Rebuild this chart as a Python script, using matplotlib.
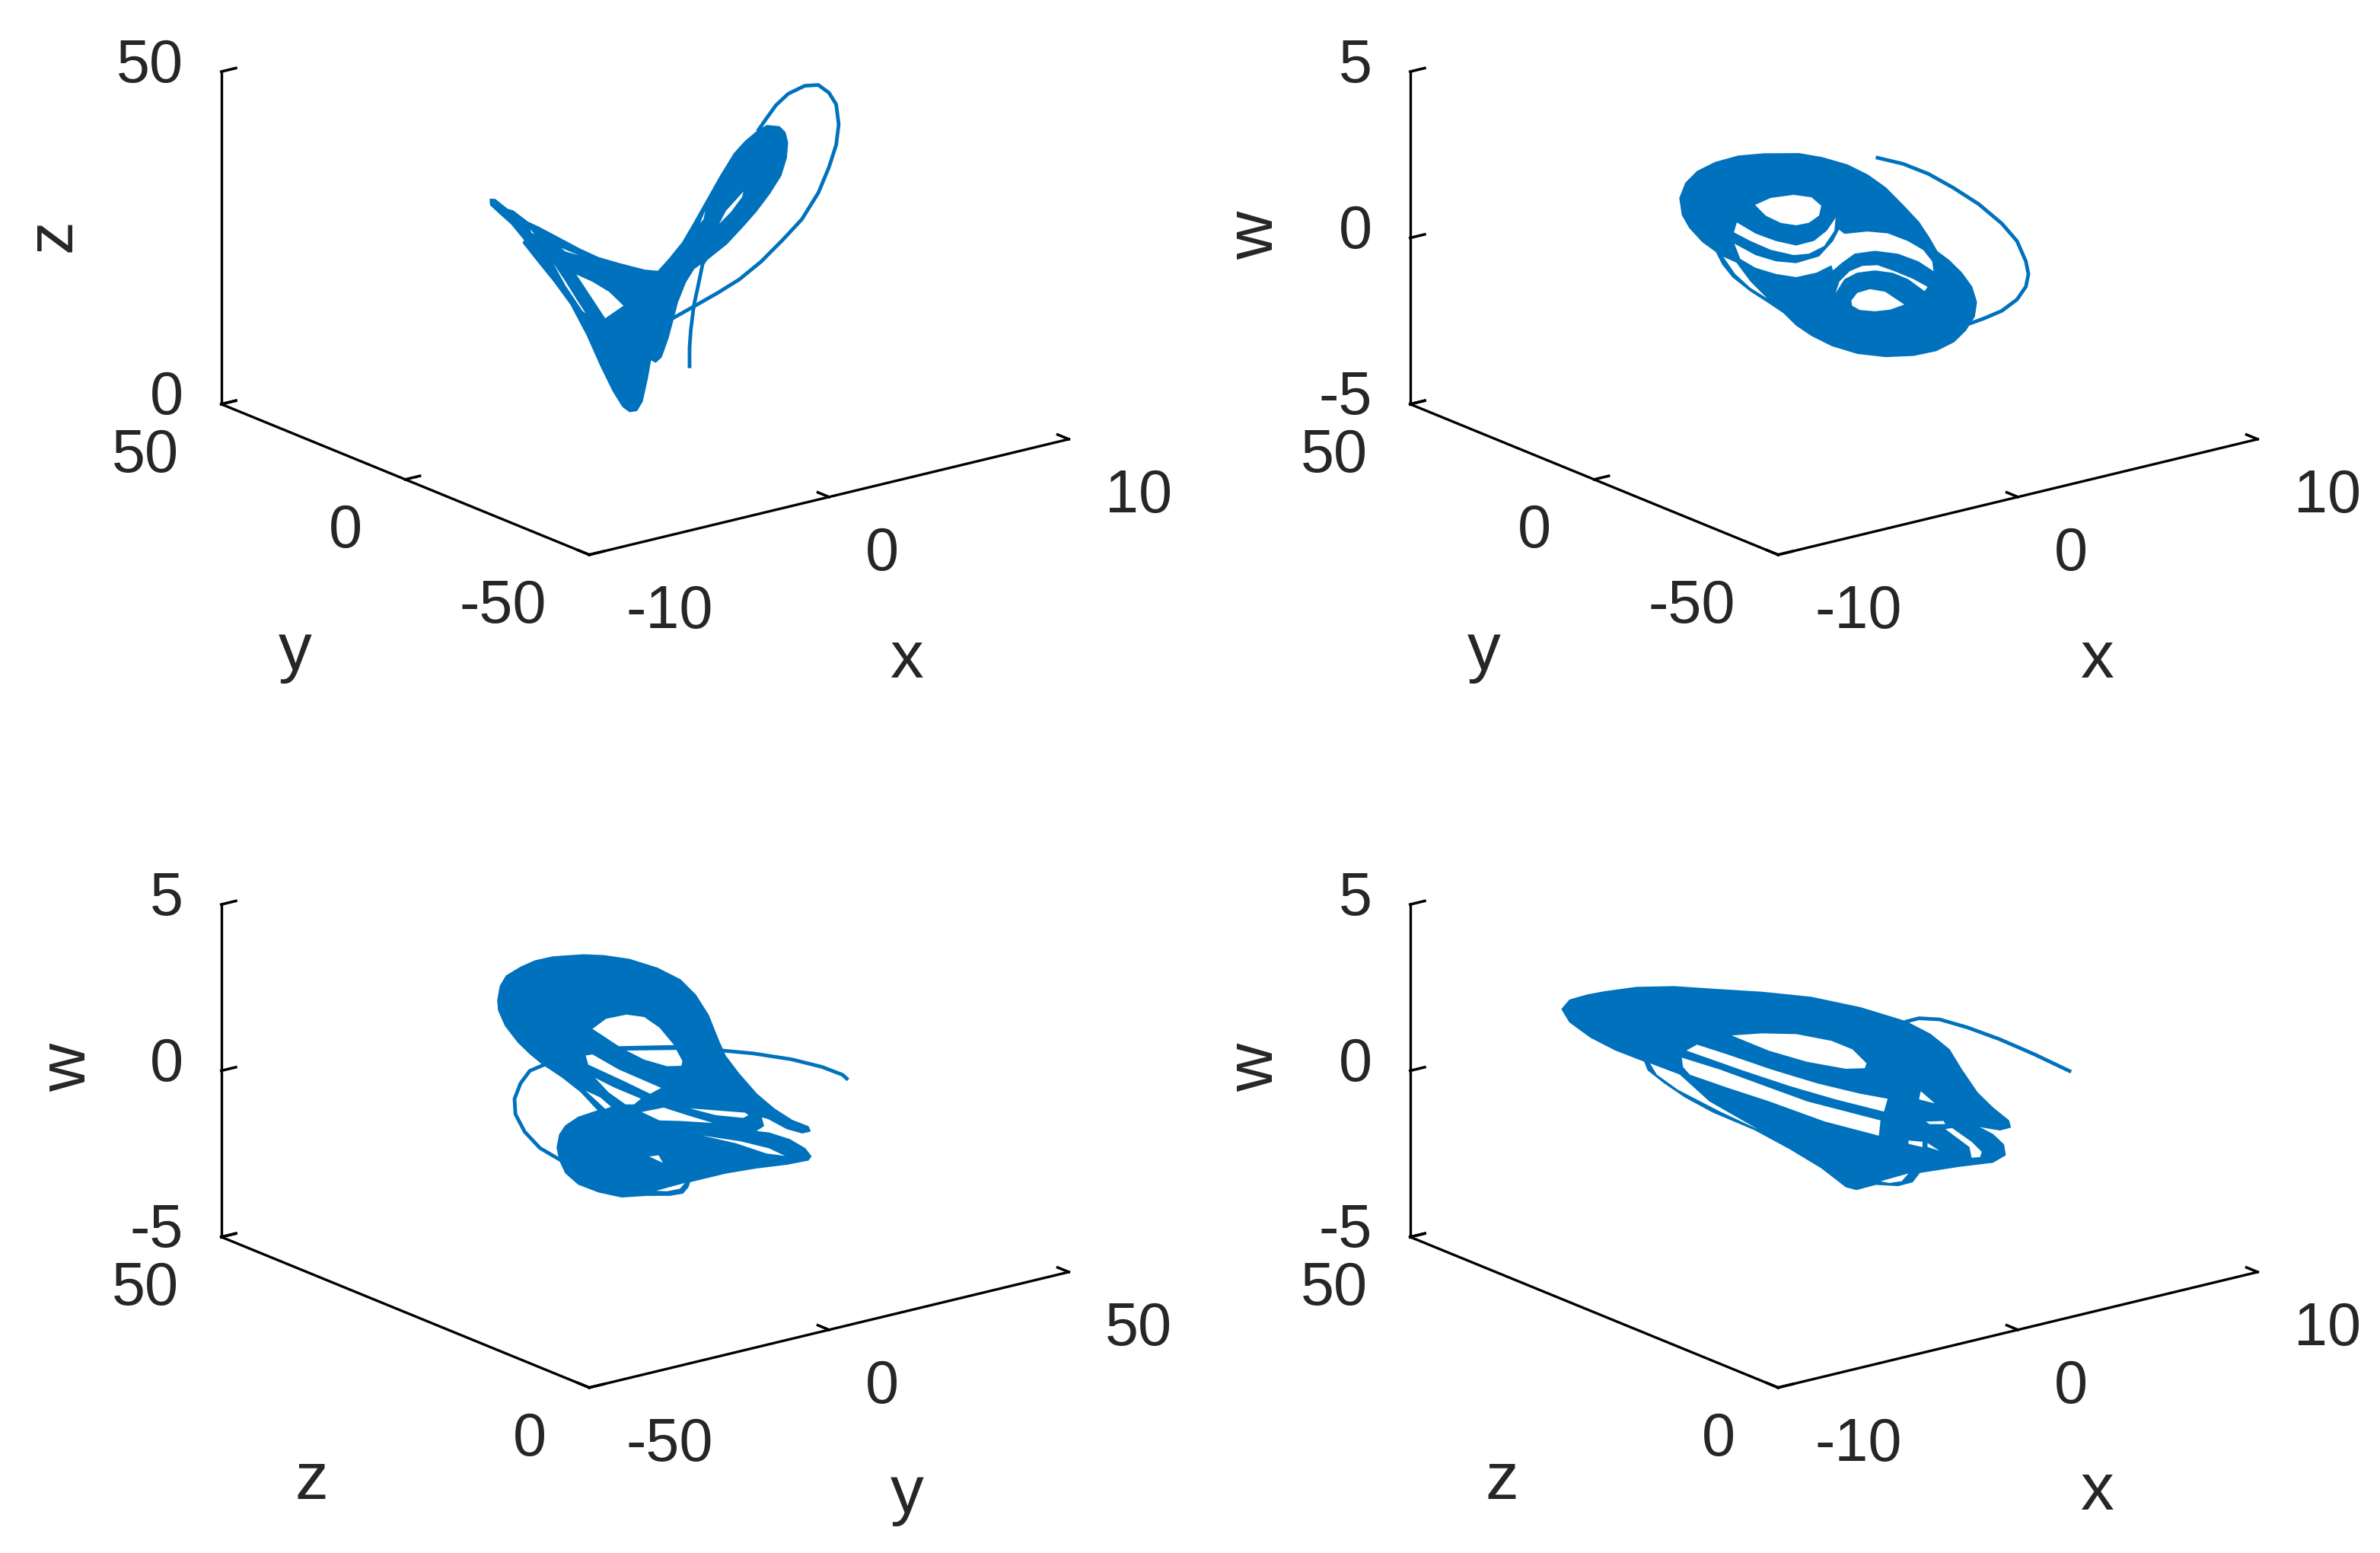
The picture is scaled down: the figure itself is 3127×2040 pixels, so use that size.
import matplotlib
matplotlib.use('Agg')
import matplotlib.pyplot as plt
from matplotlib.ticker import NullFormatter
from mpl_toolkits.mplot3d import proj3d
from mpl_toolkits.mplot3d.art3d import Poly3DCollection

nan = float('nan')

# panel 1: x, y, z
body1_x = [-3.66, -3.55, -3.26, -3.13, -2.78, -2.52, -2.07, -1.56, -1.11, -0.6, -0.02, 0.3, 0.56, 0.88, 1.14, 1.46, 1.78, 2.1, 2.36, 2.68, 2.87, 3.16, 3.29, 3.35, 3.32, 3.19, 2.93, 2.61, 2.29, 1.91, 1.46, 1.14, 0.94, 0.75, 0.65, 0.53, 0.37, 0.24, 0.12, 0.04, -0.08, -0.21, -0.37, -0.53, -0.76, -1.05, -1.37, -1.75, -2.14, -2.52, -2.88, -2.84, -3.16, -3.42, -3.65]
body1_y = [18.3, 17.75, 16.3, 15.65, 13.9, 12.6, 10.35, 7.8, 5.55, 3, 0.1, -1.5, -2.8, -4.4, -5.7, -7.3, -8.9, -10.5, -11.8, -13.4, -14.35, -15.8, -16.45, -16.75, -16.6, -15.95, -14.65, -13.05, -11.45, -9.55, -7.3, -5.7, -4.7, -3.75, -3.25, -2.65, -1.85, -1.2, -0.6, -0.2, 0.4, 1.05, 1.85, 2.65, 3.8, 5.25, 6.85, 8.75, 10.7, 12.6, 14.4, 14.2, 15.8, 17.1, 18.25]
body1_z = [32.5, 32.5, 31.1, 30.9, 29.3, 28.6, 27.2, 25.6, 24.4, 23.6, 22.8, 22.7, 24.6, 27.2, 30.1, 33.8, 37.5, 40.9, 42.8, 44.6, 45.3, 45.2, 44.4, 42.9, 40.6, 37.9, 35.2, 32.4, 30.0, 27.3, 24.9, 23.4, 21.3, 18.2, 15.7, 12.8, 9.9, 9.1, 9.5, 6.6, 3.1, 1.7, 1.5, 2.2, 4.5, 8.2, 12.7, 17.2, 20.5, 23.4, 26.2, 26.6, 29.0, 30.4, 31.7]
gap1_x = [-1.62, -1.24, -0.85, -0.51, -0.94, nan, -2.17, -1.88, -1.62, -1.4, -1.48, -1.88, nan, 2.32, 2.29, 2.03, 1.75, 1.91, nan, -1.98, -1.56, -1.88, nan, 1.3, 1.42, 1.38, nan, -2.71, -2.61, -2.68]
gap1_y = [8.1, 6.2, 4.25, 2.55, 4.7, nan, 10.85, 9.4, 8.1, 7, 7.4, 9.4, nan, -11.6, -11.45, -10.15, -8.75, -9.55, nan, 9.9, 7.8, 9.4, nan, -6.5, -7.1, -6.9, nan, 13.55, 13.05, 13.4]
gap1_z = [21.7, 20.7, 19.3, 17.3, 15.3, nan, 23.3, 20.6, 18.0, 15.9, 16.3, 20.0, nan, 35.2, 34.4, 32.1, 30.2, 32.2, nan, 25.6, 24.6, 25.1, nan, 30.2, 32.1, 30.8, nan, 28.2, 27.5, 27.7]
tail1_x = [1.05, 1.05, 1.08, 1.15, 1.26, 1.36, 1.44, nan, 0.65, 1.17, 1.71, 2.23, 2.74, 3.25, 3.7, 4.09, 4.34, 4.51, 4.57, 4.51, 4.34, 4.09, 3.77, 3.38, 3.09, 2.87, 2.68]
tail1_y = [-5.25, -5.25, -5.4, -5.75, -6.3, -6.8, -7.2, nan, -3.25, -5.85, -8.55, -11.15, -13.7, -16.25, -18.5, -20.45, -21.7, -22.55, -22.85, -22.55, -21.7, -20.45, -18.85, -16.9, -15.45, -14.35, -13.4]
tail1_z = [8.6, 11.4, 14.1, 17.7, 21.0, 24.1, 24.9, nan, 15.7, 17.7, 19.8, 22.0, 24.8, 28.2, 31.4, 35.5, 39.4, 42.8, 45.9, 48.9, 50.6, 51.7, 51.5, 50.2, 48.4, 46.4, 44.6]

# panel 2: x, y, w
body2_x = [-3.64, -3.5, -3.23, -2.81, -2.27, -1.67, -0.83, -0.29, 0.31, 0.79, 1.21, 1.63, 1.99, 2.23, 2.42, 2.7, 3.0, 3.24, 3.35, 3.3, 3.09, 2.82, 2.4, 1.87, 1.21, 0.55, -0.05, -0.53, -0.89, -1.19, -1.55, -1.97, -2.39, -2.63, -2.78, -3.11, -3.41, -3.58]
body2_y = [18.2, 17.5, 16.15, 14.05, 11.35, 8.35, 4.15, 1.45, -1.55, -3.95, -6.05, -8.15, -9.95, -11.15, -12.1, -13.5, -15, -16.2, -16.75, -16.5, -15.45, -14.1, -12, -9.35, -6.05, -2.75, 0.25, 2.65, 4.45, 5.95, 7.75, 9.85, 11.95, 13.15, 13.9, 15.55, 17.05, 17.9]
body2_w = [1.54, 2.0, 2.36, 2.65, 2.87, 2.97, 3.02, 2.93, 2.74, 2.46, 2.1, 1.58, 1.11, 0.66, 0.25, 0.0, -0.36, -0.77, -1.22, -1.65, -2.08, -2.43, -2.72, -2.89, -2.96, -2.9, -2.7, -2.42, -2.13, -1.77, -1.48, -1.16, -0.76, -0.39, -0.02, 0.27, 0.67, 1.04]
gap2_x = [-1.86, -1.49, -0.95, -0.53, -0.3, -0.35, -0.59, -0.89, -1.25, -1.61, nan,
          -2.29, -1.85, -1.37, -0.89, -0.47, -0.17, 0.04, 0.01, -0.23, -0.59, -0.95, -1.49, -1.97, -2.36, nan,
          -2.35, -1.85, -1.37, -0.89, -0.35, -0.02, 0.12, 0.25, 0.79, 1.27, 1.75, 2.11, 2.32, 2.35, 1.99, 1.51, 0.97, 0.49, 0.19, -0.02, -0.06, -0.41, -0.89, -1.37, -1.85, -2.21, nan,
          0.04, 0.13, 0.37, 0.67, 1.03, 1.45, 1.87, 2.21, 2.14, 1.75, 1.39, 0.97, 0.55, 0.25, nan,
          0.41, 0.55, 0.85, 1.21, 1.66, 1.33, 0.97, 0.61, 0.43, nan,
          -2.61, -2.3, -1.97, -1.58, -1.97, -2.33]
gap2_y = [9.3, 7.45, 4.75, 2.65, 1.5, 1.75, 2.95, 4.45, 6.25, 8.05, nan,
          11.45, 9.25, 6.85, 4.45, 2.35, 0.85, -0.2, -0.05, 1.15, 2.95, 4.75, 7.45, 9.85, 11.8, nan,
          11.75, 9.25, 6.85, 4.45, 1.75, 0.1, -0.6, -1.25, -3.95, -6.35, -8.75, -10.55, -11.6, -11.75, -9.95, -7.55, -4.85, -2.45, -0.95, 0.1, 0.3, 2.05, 4.45, 6.85, 9.25, 11.05, nan,
          -0.2, -0.65, -1.85, -3.35, -5.15, -7.25, -9.35, -11.05, -10.7, -8.75, -6.95, -4.85, -2.75, -1.25, nan,
          -2.05, -2.75, -4.25, -6.05, -8.3, -6.65, -4.85, -3.05, -2.15, nan,
          13.05, 11.5, 9.85, 7.9, 9.85, 11.65]
gap2_w = [1.42, 1.65, 1.77, 1.72, 1.48, 1.18, 0.95, 0.86, 0.91, 1.11, nan,
          0.87, 0.56, 0.36, 0.25, 0.41, 0.73, 1.13, 0.74, 0.27, 0.02, -0.04, 0.09, 0.33, 0.57, nan,
          0.23, -0.09, -0.25, -0.28, -0.05, 0.43, 0.78, 0.66, 0.76, 0.73, 0.52, 0.27, -0.06, -0.35, -0.07, 0.13, 0.19, 0.08, -0.21, -0.45, -0.3, -0.54, -0.7, -0.63, -0.47, -0.22, nan,
          -1.13, -0.78, -0.46, -0.28, -0.24, -0.41, -0.61, -0.83, -0.96, -0.62, -0.45, -0.4, -0.49, -0.7, nan,
          -1.34, -1.1, -0.97, -1.03, -1.39, -1.56, -1.63, -1.61, -1.49, nan,
          -0.18, -0.34, -0.89, -1.37, -1.08, -0.68]
tail2_x = [1.03, 1.63, 2.23, 2.82, 3.42, 3.96, 4.32, 4.53, 4.59, 4.53, 4.32, 3.96, 3.54, 3.09]
tail2_y = [-5.15, -8.15, -11.15, -14.1, -17.1, -19.8, -21.6, -22.65, -22.95, -22.65, -21.6, -19.8, -17.7, -15.45]
tail2_w = [2.99, 2.84, 2.57, 2.18, 1.72, 1.17, 0.66, 0.06, -0.32, -0.7, -1.1, -1.46, -1.71, -1.94]

# panel 3: y, z, w
body3_y = [-17.4, -17.1, -16.4, -14.7, -13.0, -10.9, -7.3, -4.9, -1.9, 1.4, 4.1, 5.9, 7.4, 8.6, 9.4, 11.0, 13.1, 15.2, 17.3, 19.2, 19.4, 18.5, 16.7, 14.5, 13.6, 13.9, 13.1, 12.2, 14.6, 17.0, 18.8, 19.5, 19.2, 16.7, 13.1, 9.5, 5.2, 5.0, 4.4, 2.9, 0.2, -2.8, -5.5, -7.9, -9.4, -10.1, -10.4, -10.1, -9.4, -7.9, -5.5, -7.6, -9.7, -11.5, -12.0, -13.6, -15.0, -16.5, -17.3]
body3_z = [33.7, 33.55, 33.2, 32.35, 31.5, 30.45, 28.65, 27.45, 25.95, 24.3, 22.95, 22.05, 21.3, 20.7, 20.3, 19.5, 18.45, 17.4, 16.35, 15.4, 15.3, 15.75, 16.65, 17.75, 18.2, 18.05, 18.45, 18.9, 17.7, 16.5, 15.6, 15.25, 15.4, 16.65, 18.45, 20.25, 22.4, 22.5, 22.8, 23.55, 24.9, 26.4, 27.75, 28.95, 29.7, 30.05, 30.2, 30.05, 29.7, 28.95, 27.75, 28.8, 29.85, 30.75, 31, 31.8, 32.5, 33.25, 33.65]
body3_w = [2.47, 2.9, 3.21, 3.49, 3.7, 3.84, 3.94, 3.94, 3.86, 3.63, 3.31, 2.87, 2.28, 1.53, 1.08, 0.56, -0.03, -0.46, -0.78, -0.95, -1.07, -1.13, -1.02, -0.74, -0.69, -0.97, -1.11, -1.14, -1.19, -1.36, -1.61, -1.83, -1.94, -2.09, -2.24, -2.43, -2.74, -2.9, -3.09, -3.17, -3.2, -3.28, -3.16, -2.95, -2.63, -2.25, -1.88, -1.49, -1.22, -0.95, -0.72, -0.17, 0.23, 0.52, 0.59, 0.91, 1.24, 1.72, 2.17]
gap3_y = [-6.2, -4.6, -2.2, -0.1, 1.7, 3.5, -2.9, nan,
          -2.2, 3.7, 4.4, 4.3, 2.6, -0.1, nan,
          -7.0, -6.2, -3.1, 1.9, 0.6, -2.5, -6.7, nan,
          -5.9, -3.7, -0.5, -1.3, -2.3, -4.3, nan,
          -7.0, -5.3, -4.0, -4.7, -5.8, nan,
          -0.4, 2.2, 5.0, 8.0, 4.1, 1.7, nan,
          5.3, 11.8, 12.2, 11.6, 8.3, nan,
          6.7, 11.3, 14.6, 16.5, 14.3, 10.7, nan,
          0.5, 1.6, 2.1, nan,
          1.3, 4.7, 4.1, 2.6]
gap3_z = [28.1, 27.3, 26.1, 25.05, 24.15, 23.25, 26.45, nan,
          26.1, 23.15, 22.8, 22.85, 23.7, 25.05, nan,
          28.5, 28.1, 26.55, 24.05, 24.7, 26.25, 28.35, nan,
          27.95, 26.85, 25.25, 25.65, 26.15, 27.15, nan,
          28.5, 27.65, 27, 27.35, 27.9, nan,
          25.2, 23.9, 22.5, 21, 22.95, 24.15, nan,
          22.35, 19.1, 18.9, 19.2, 20.85, nan,
          21.65, 19.35, 17.7, 16.75, 17.85, 19.65, nan,
          24.75, 24.2, 23.95, nan,
          24.35, 22.65, 22.95, 23.7]
gap3_w = [1.72, 2.04, 2.19, 2.14, 1.84, 1.31, 1.2, nan,
          1.11, 1.19, 0.87, 0.72, 0.69, 0.86, nan,
          0.91, 0.95, 0.53, 0.03, -0.16, 0.19, 0.64, nan,
          0.25, -0.01, -0.32, -0.5, -0.51, -0.17, nan,
          -0.15, -0.33, -0.6, -0.67, -0.42, nan,
          -0.72, -0.56, -0.76, -0.96, -0.94, -0.95, nan,
          -0.55, -0.61, -0.68, -0.77, -0.72, nan,
          -1.35, -1.48, -1.65, -1.86, -1.81, -1.54, nan,
          -2.05, -2.0, -2.22, nan,
          -3.07, -2.8, -2.98, -3.07]
tail3_y = [9.1, 12.8, 17.3, 20.9, 23.3, 23.8, nan, -12.0, -13.6, -14.7, -15.4, -15.3, -14.2, -12.4, -10.1, nan, -2.9, 3.5]
tail3_z = [20.45, 18.6, 16.35, 14.55, 13.35, 13.1, nan, 31, 31.8, 32.35, 32.7, 32.65, 32.1, 31.2, 30.05, nan, 26.45, 23.25]
tail3_w = [1.23, 1.18, 1.05, 0.86, 0.65, 0.54, nan, 0.57, 0.38, -0.01, -0.48, -0.94, -1.46, -1.93, -2.25, nan, 1.18, 1.28]

# panel 4: x, z, w
body4_x = [-6.42, -6.24, -5.83, -5.42, -4.67, -3.77, -2.86, -1.7, -0.55, 0.61, 1.68, 2.26, 2.71, 3.0, 3.37, 3.74, 4.11, 4.15, 3.91, 3.53, 3.29, 3.74, 3.99, 4.03, 3.74, 2.92, 2.01, 1.84, 1.51, 0.98, 0.52, 0.28, -0.3, -1.04, -1.87, -2.86, -3.52, -4.01, -4.39, -4.47, -5.17, -5.75, -6.24]
body4_z = [41.05, 40.6, 39.58, 38.55, 36.68, 34.43, 32.15, 29.25, 26.38, 23.48, 20.8, 19.35, 18.23, 17.5, 16.58, 15.65, 14.73, 14.63, 15.23, 16.18, 16.78, 15.65, 15.03, 14.93, 15.65, 17.7, 19.98, 20.4, 21.23, 22.55, 23.7, 24.3, 25.75, 27.6, 29.68, 32.15, 33.8, 35.03, 35.98, 36.18, 37.93, 39.38, 40.6]
body4_w = [2.05, 2.33, 2.5, 2.62, 2.79, 2.86, 2.83, 2.8, 2.71, 2.46, 2.1, 1.75, 1.31, 0.72, 0.05, -0.39, -0.75, -0.94, -1.03, -0.97, -0.91, -1.19, -1.48, -1.78, -2.01, -2.18, -2.41, -2.7, -2.83, -2.82, -3.0, -2.93, -2.39, -1.86, -1.33, -0.85, -0.43, -0.03, 0.33, 0.59, 0.9, 1.25, 1.68]
gap4_x = [-2.41, -1.7, -0.88, -0.05, 0.44, 0.77, 0.73, 0.28, -0.63, -1.54, nan,
          -3.23, -2.53, -1.46, -0.38, 0.61, 1.27, 1.18, 0.03, -1.04, -2.2, -3.48, nan,
          -3.59, -2.69, -1.7, -0.63, 1.1, 1.06, -0.22, -1.54, -2.53, -3.4, -3.56, nan,
          -4.34, -3.64, -2.94, -1.79, -2.69, -3.68, -4.18, nan,
          2.05, 2.38, 2.01, nan,
          2.63, 2.79, 3.25, 3.49, 3.45, 3.25, 3.2, nan,
          1.76, 2.09, 2.09, 1.76, nan,
          2.21, 2.49, 2.21, nan,
          2.17, 2.59, 2.63, 2.26, nan,
          1.1, 1.76, 1.6, 1.31]
gap4_z = [31.03, 29.25, 27.2, 25.13, 23.9, 23.08, 23.18, 24.3, 26.58, 28.85, nan,
          33.08, 31.33, 28.65, 25.95, 23.48, 21.83, 22.05, 24.93, 27.6, 30.5, 33.7, nan,
          33.98, 31.73, 29.25, 26.58, 22.25, 22.35, 25.55, 28.85, 31.33, 33.5, 33.9, nan,
          35.85, 34.1, 32.35, 29.48, 31.73, 34.2, 35.45, nan,
          19.88, 19.05, 19.98, nan,
          18.43, 18.03, 16.88, 16.28, 16.38, 16.88, 17, nan,
          20.6, 19.78, 19.78, 20.6, nan,
          19.48, 18.78, 19.48, nan,
          19.58, 18.53, 18.43, 19.35, nan,
          22.25, 20.6, 21, 21.73]
gap4_w = [1.46, 1.56, 1.58, 1.42, 1.19, 0.79, 0.64, 0.6, 0.76, 1.05, nan,
          1.14, 0.89, 0.48, 0.12, -0.13, -0.25, -0.64, -0.33, 0.01, 0.44, 0.95, nan,
          0.73, 0.42, 0.01, -0.43, -0.91, -1.37, -1.01, -0.47, -0.11, 0.23, 0.45, nan,
          0.52, 0.22, -0.55, -1.33, -0.84, -0.24, 0.19, nan,
          0.02, -0.33, -0.23, nan,
          -1.09, -1.05, -1.44, -1.73, -1.89, -1.92, -1.6, nan,
          -1.48, -1.5, -1.66, -1.58, nan,
          -1.53, -1.75, -1.65, nan,
          -0.89, -0.85, -0.94, -0.96, nan,
          -2.74, -2.47, -2.71, -2.78]
tail4_x = [1.72, 2.01, 2.5, 3.16, 3.91, 4.73, 5.56]
tail4_z = [20.7, 19.98, 18.75, 17.1, 15.23, 13.18, 11.1]
tail4_w = [2.1, 2.21, 2.2, 1.99, 1.68, 1.27, 0.81]

xticks = [[-10, 0, 10], [-10, 0, 10], [-50, 0, 50], [-10, 0, 10]]
yticks = [[-50, 0, 50], [-50, 0, 50], [0, 50], [0, 50]]
zticks = [[0, 50], [-5, 0, 5], [-5, 0, 5], [-5, 0, 5]]
names = [('x', 'y', 'z'), ('x', 'y', 'w'), ('y', 'z', 'w'), ('x', 'z', 'w')]

W, H = 3128, 2040
BLUE = '#0072BD'
DARK = '#262626'
plt.rcParams['font.family'] = ['Liberation Sans']


def pieces(a, b, c):
    out, cur = [], []
    for p in zip(a, b, c):
        if p[0] != p[0]:
            out.append(cur)
            cur = []
        else:
            cur.append(p)
    out.append(cur)
    return out


def label(ax, pt, text, dx, dy, ha='center', size=19, rot=0):
    X, Y, _ = proj3d.proj_transform(pt[0], pt[1], pt[2], ax.get_proj())
    ax.annotate(text, xy=(X, Y), xytext=(dx, -dy), textcoords='offset pixels', ha=ha, va='center',
                fontsize=size, color=DARK, rotation=rot, annotation_clip=False)


def panel(i, body, gap, tail, corner, xoff, yoff, zoff):
    # the 3d axes keeps a little more room on its left and bottom (0.95 against 0.9)
    side = 1178.2
    cx = corner[0] + 73.5
    cy = corner[1] - 394.5
    ax = fig.add_axes([(cx - .5135 * side) / W, 1 - (cy + .5135 * side) / H, side / W, side / H], projection='3d')
    ax.set_proj_type('ortho')
    ax.view_init(elev=18.3, azim=-127.5)
    ax.set_box_aspect((794, 794, 460))
    ax.computed_zorder = False
    ax.set_facecolor('none')
    ax.grid(False)
    xl, yl, zl = (min(xticks[i]), max(xticks[i])), (min(yticks[i]), max(yticks[i])), (min(zticks[i]), max(zticks[i]))
    ax.set_xlim(*xl, view_margin=0)
    ax.set_ylim(*yl, view_margin=0)
    ax.set_zlim(*zl, view_margin=0)
    ax.set_xticks(xticks[i])
    ax.set_yticks(yticks[i])
    ax.set_zticks(zticks[i])
    for axis in (ax.xaxis, ax.yaxis, ax.zaxis):
        axis.set_major_formatter(NullFormatter())
        axis.pane.set_visible(False)
        axis._axinfo['axisline']['color'] = DARK
        axis._axinfo['axisline']['linewidth'] = 0.85
        axis._axinfo['tick']['color'] = DARK
        axis._axinfo['tick']['linewidth'] = {True: 0.85, False: 0.5}
        axis._axinfo['tick']['inward_factor'] = 0
        axis._axinfo['tick']['outward_factor'] = 0.38

    ax.add_collection3d(Poly3DCollection(pieces(*body), facecolor=BLUE, edgecolor=BLUE, linewidth=.5, zorder=2), autolim=False)
    ax.add_collection3d(Poly3DCollection(pieces(*gap), facecolor='white', edgecolor='none', zorder=3), autolim=False)
    ax.plot(*tail, color=BLUE, lw=1.15, solid_joinstyle='round', zorder=4)

    for v in xticks[i]:
        label(ax, (v, yl[0], zl[0]), str(v), 48, 76, ha='left')
    for v in yticks[i]:
        label(ax, (xl[0], v, zl[0]), str(v), -56, 69, ha='right')
    for v in zticks[i]:
        label(ax, (xl[0], yl[1], v), str(v), -50, -7, ha='right')
    label(ax, (sum(xl) / 2, yl[0], zl[0]), names[i][0], xoff[0], xoff[1] + 7, size=21)
    label(ax, (xl[0], sum(yl) / 2, zl[0]), names[i][1], yoff[0], yoff[1] + 7, size=21)
    label(ax, (xl[0], yl[1], sum(zl) / 2), names[i][2], *zoff, size=21, rot=90)


fig = plt.figure(figsize=(W / 300, H / 300), dpi=300)
panel(0, (body1_x, body1_y, body1_z), (gap1_x, gap1_y, gap1_z), (tail1_x, tail1_y, tail1_z), (774, 730), (102, 208), (-145, 221), (-221, -3))
panel(1, (body2_x, body2_y, body2_w), (gap2_x, gap2_y, gap2_w), (tail2_x, tail2_y, tail2_w), (2336, 730), (104, 208), (-145, 221), (-203, -3))
panel(2, (body3_y, body3_z, body3_w), (gap3_y, gap3_z, gap3_w), (tail3_y, tail3_z, tail3_w), (774, 1824), (102, 211), (-123, 216), (-201, -4))
panel(3, (body4_x, body4_z, body4_w), (gap4_x, gap4_z, gap4_w), (tail4_x, tail4_z, tail4_w), (2336, 1824), (104, 207), (-121, 216), (-203, -4))
fig.savefig('out.png', dpi=300)
